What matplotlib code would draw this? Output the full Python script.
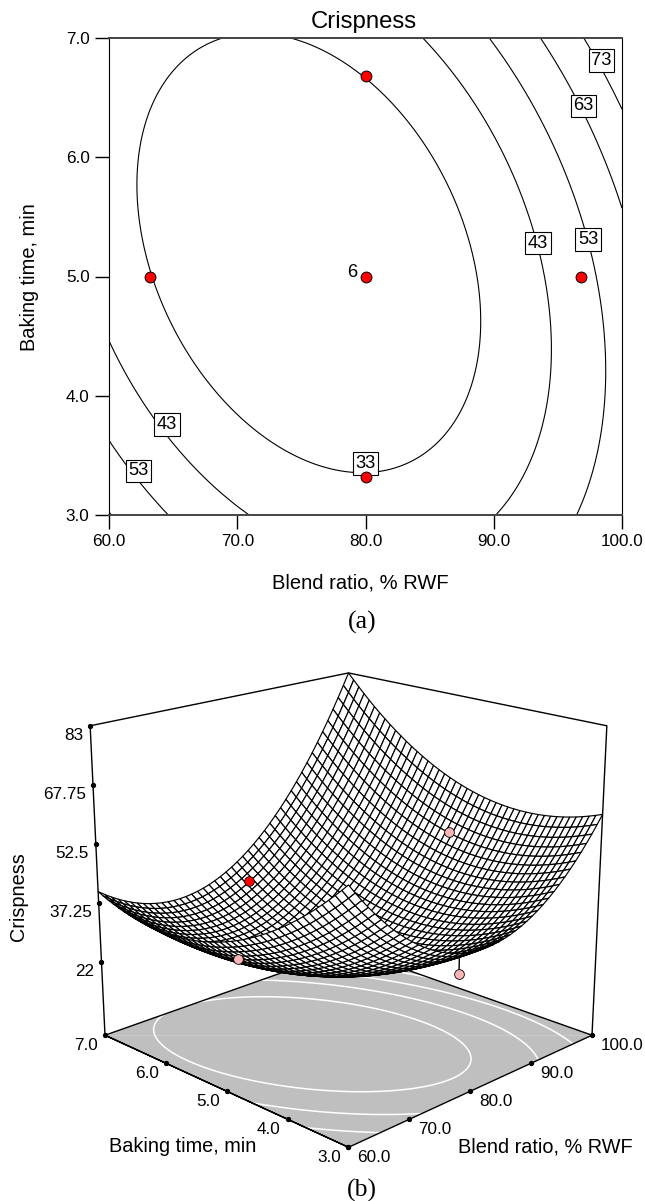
#!/usr/bin/env python3
import matplotlib
matplotlib.use("Agg")
import matplotlib.pyplot as plt
from matplotlib.lines import Line2D
import numpy as np
from mpl_toolkits.mplot3d import proj3d

plt.rcParams["font.family"] = ["Liberation Sans", "DejaVu Sans"]

# crispness at a coarse grid
blend_grid = [60, 70, 80, 90, 100]
time_grid = [3, 4, 5, 6, 7]
crisp_t3 = [63.3, 44.2, 37.7, 42.8, 60.5]
crisp_t4 = [48.0, 31.5, 27.4, 35.6, 56.4]
crisp_t5 = [38.9, 25.2, 23.9, 35.2, 59.1]
crisp_t6 = [36.6, 25.7, 27.1, 41.1, 67.7]
crisp_t7 = [40.9, 32.9, 36.9, 53.7, 83.0]

levels = [33, 43, 53, 63, 73]
# contour label boxes
label_vals = ["73", "63", "53", "43", "43", "53", "33"]
label_blend = [98.4, 97.0, 97.35, 93.45, 64.5, 62.3, 80.0]
label_time = [6.81, 6.43, 5.31, 5.28, 3.76, 3.37, 3.43]

# design points
pt_blend = [80.0, 63.2, 96.8, 80.0, 80.0]
pt_time = [5.0, 5.0, 5.0, 3.32, 6.68]
pt_crisp = [23.9, 32.8, 48.4, 29.0, 34.9]

x_ticks = [60, 70, 80, 90, 100]
y_ticks = [3, 4, 5, 6, 7]
z_ticks = [22, 37.25, 52.5, 67.75, 83]
z_labels = ["22", "37.25", "52.5", "67.75", "83"]
z_floor = 2

# quadratic response surface through the grid values
bb, tt = np.meshgrid(blend_grid, time_grid)
zz = np.array([crisp_t3, crisp_t4, crisp_t5, crisp_t6, crisp_t7])
def terms(b, t):
    return np.column_stack([np.ones(b.size), b, t, b*b, t*t, b*t])
coef = np.linalg.lstsq(terms(bb.ravel().astype(float), tt.ravel().astype(float)), zz.ravel(), rcond=None)[0]
def model(b, t):
    return (terms(np.ravel(b), np.ravel(t)) @ coef).reshape(np.shape(b))

W, H = 645, 1201
fig = plt.figure(figsize=(W/100, H/100), dpi=100)

# --- (a) contour plot
ax = fig.add_axes([109/W, 1-515/H, 513/W, 477/H])
gb, gt = np.meshgrid(np.linspace(60, 100, 300), np.linspace(3, 7, 300))
ax.contour(gb, gt, model(gb, gt), levels=levels, colors="k", linewidths=0.8)
ax.set_xlim(60, 100); ax.set_ylim(3, 7)
ax.set_xticks(x_ticks); ax.set_xticklabels([f"{v:.1f}" for v in x_ticks])
ax.set_yticks(y_ticks); ax.set_yticklabels([f"{v:.1f}" for v in y_ticks])
ax.tick_params(length=10, width=1, labelsize=12.3, pad=4)
fig.text(364/W, 1-22/H, "Crispness", fontsize=17.2, ha="center", va="center")
for s in ["top", "bottom"]:
    ax.spines[s].set_color("#444444"); ax.spines[s].set_linewidth(1.4)
for s, xv, yv in zip(label_vals, label_blend, label_time):
    ax.text(xv, yv, s, fontsize=13.2, ha="center", va="center", zorder=4,
            bbox=dict(boxstyle="square,pad=0.15", fc="white", ec="k", lw=0.8))
ax.plot(pt_blend, pt_time, "o", color="red", mec="k", mew=0.7, ms=7.8, zorder=5, clip_on=False, ls="none")
ax.annotate("6", (80, 5), xytext=(-6, 3), textcoords="offset points", fontsize=13.2, ha="right", va="center")
fig.text(360/W, 1-583/H, "Blend ratio, % RWF", fontsize=14.5, ha="center", va="center")
fig.text(30/W, 1-277/H, "Baking time, min", fontsize=14.4, rotation=90, ha="center", va="center")
fig.text(362/W, 1-622/H, "(a)", fontsize=18.5, family="Liberation Serif", ha="center", va="center")

# --- (b) surface plot
size = 600
ax3 = fig.add_axes([25/W, 1-(900+size/2)/H, size/W, size/H], projection="3d", computed_zorder=False)
ax3.set_proj_type("persp", focal_length=0.56)
ax3.view_init(elev=18.6, azim=-135)
ax3.set_box_aspect((1, 1, 0.92))
ax3.set_xlim(60, 100); ax3.set_ylim(3, 7); ax3.set_zlim(z_floor, 83)
ax3.set_axis_off()
ax3.patch.set_alpha(0)

def to_px(xs, ys, zs):
    ax3.apply_aspect()
    m = ax3.get_proj()
    u, v, _ = proj3d.proj_transform(np.array(xs, float), np.array(ys, float), np.array(zs, float), m)
    return ax3.transData.transform(np.column_stack([u, v]))

# fit the axes box so the floor and the top corners land where the reference has them
p = to_px([60, 100, 60], [7, 3, 7], [z_floor, z_floor, 83])
scale = 487 / (p[1, 0] - p[0, 0])
size *= scale
ax3.set_position([25/W, 1-(900+size/2)/H, size/W, size/H])
p = to_px([60, 100, 60], [7, 3, 7], [z_floor, z_floor, 83])
dx = 348.5 - (p[0, 0] + p[1, 0]) / 2
dy = (1201-880.5) - (p[0, 1] + p[2, 1]) / 2
pos = ax3.get_position()
ax3.set_position([pos.x0 + dx/W, pos.y0 + dy/H, pos.width, pos.height])

# floor
fx = [60, 100, 100, 60]; fy = [3, 3, 7, 7]
ax3.plot_trisurf(fx, fy, [z_floor]*4, color="#BFBFBF", shade=False, linewidth=0, zorder=1)
mb, mt = np.meshgrid(np.linspace(60, 100, 201), np.linspace(3, 7, 201))
ax3.contour(mb, mt, model(mb, mt), levels=levels, zdir="z", offset=z_floor, colors="white", linewidths=1.1, zorder=2)

# box edges
ax3.plot([60, 60, 100, 100, 60, 60], [3, 7, 7, 3, 3, 7], [z_floor]*6, color="k", lw=1, zorder=3)
ax3.plot([60, 60, 100, 100, 100], [7, 7, 7, 3, 3], [z_floor, 83, 83, 83, z_floor], color="k", lw=1, zorder=3)

# center run sits under the surface, the stem of the front point too
ax3.plot([pt_blend[0]], [pt_time[0]], [pt_crisp[0]], "o", color="red", mec="k", ms=7, zorder=3)
ax3.plot([pt_blend[3]]*2, [pt_time[3]]*2, [pt_crisp[3], model(np.array([pt_blend[3]]), np.array([pt_time[3]]))[0]],
         color="k", lw=1, zorder=3)

# surface
sb, st = np.meshgrid(np.linspace(60, 100, 45), np.linspace(3, 7, 45))
ax3.plot_surface(sb, st, model(sb, st), rstride=1, cstride=1, color="white", edgecolor="k",
                 linewidth=0.85, shade=False, zorder=4)

# points visible against the surface
for i, c in [(1, "#F7B5B5"), (2, "#F7B5B5"), (3, "#F7B5B5"), (4, "red")]:
    ax3.plot([pt_blend[i]], [pt_time[i]], [pt_crisp[i]], "o", color=c, mec="k", mew=0.6, ms=7, zorder=5)

# tick dots sit evenly along each edge in the picture, labels hang off them
def edge_ticks(values, start, end, labels, ox, oy, ha):
    lo, hi = values[0], values[-1]
    a, b = to_px(*zip(start, end))
    for v, s in zip(values, labels):
        xy = a + (b - a) * (v - lo) / (hi - lo)
        fig.add_artist(Line2D([xy[0]], [xy[1]], marker="o", color="k", ms=2.8, transform=None, zorder=6))
        fig.text((xy[0] + ox) / W, (xy[1] - oy) / H, s, fontsize=12.3, ha=ha, va="center")

edge_ticks(z_ticks, (60, 7, 22), (60, 7, 83), z_labels, -7, 9.5, "right")
edge_ticks(y_ticks, (60, 3, z_floor), (60, 7, z_floor), [f"{v:.1f}" for v in y_ticks], -7, 10, "right")
edge_ticks(x_ticks, (60, 3, z_floor), (100, 3, z_floor), [f"{v:.1f}" for v in x_ticks], 9, 10, "left")

fig.text(183/W, 1-1147/H, "Baking time, min", fontsize=14.3, ha="center", va="center")
fig.text(545/W, 1-1147/H, "Blend ratio, % RWF", fontsize=14.3, ha="center", va="center")
fig.text(19/W, 1-897/H, "Crispness", fontsize=14.3, rotation=90, ha="center", va="center")
fig.text(362/W, 1-1190/H, "(b)", fontsize=18.5, family="Liberation Serif", ha="center", va="center")

fig.savefig("out.png", dpi=100)
